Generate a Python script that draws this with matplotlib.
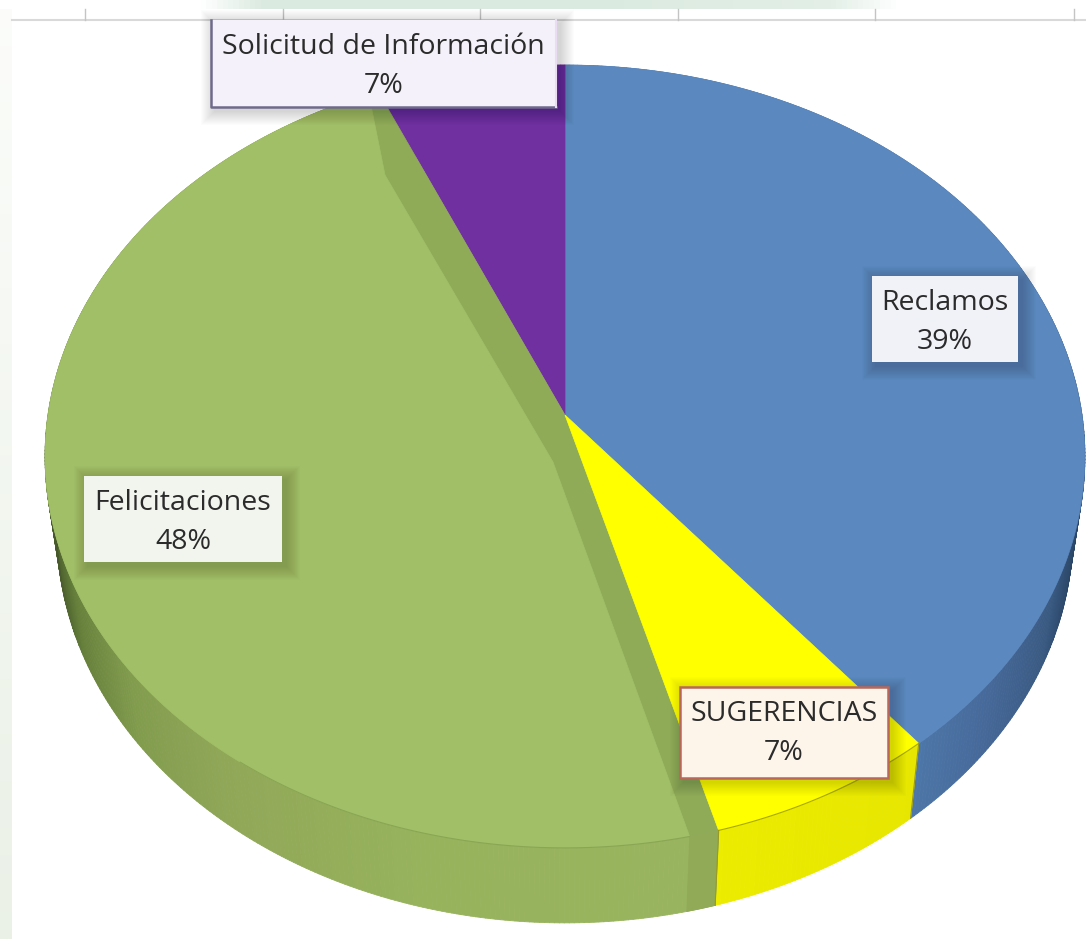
import numpy as np
import matplotlib
matplotlib.use('Agg')
import matplotlib.pyplot as plt
from matplotlib.collections import PolyCollection
from matplotlib.patches import Polygon, Rectangle

plt.rcParams['font.family'] = ['Open Sans', 'DejaVu Sans']

# Chart data (clockwise from 12 o'clock)
categories = ['Reclamos', 'SUGERENCIAS', 'Felicitaciones', 'Solicitud de Información']
shares = [39.2, 6.5, 47.8, 6.5]
pct_labels = ['39%', '7%', '48%', '7%']

top_colors = ['#5b88bf', '#ffff00', '#a0bf67', '#7030a0']
wall_color = '#8fab58'

# pie placement in pixels, with a bit of perspective
CX, CY = 565, 415
AX, BY = 517, 387
PERSP = 0.106
DEPTH = 75
BOTTOM_SCALE = 0.977


def project(t):
    # t in degrees clockwise from the top of the pie
    r = np.radians(t)
    u, v = np.sin(r), np.cos(r)
    d = 1 + PERSP * v
    return CX + AX * u / d, CY - BY * v / d


def rim(t0, t1):
    ts = np.linspace(t0, t1, max(int(abs(t1 - t0) * 2), 4))
    x, y = project(ts)
    return np.column_stack([x, y])


def lower(pts):
    out = np.array(pts, dtype=float)
    out[:, 0] = CX + (out[:, 0] - CX) * BOTTOM_SCALE
    out[:, 1] = out[:, 1] + DEPTH
    return out


def side_color(name, x):
    if name == 'Reclamos':
        stops = [(900, '#4e79aa'), (980, '#46699a'), (1040, '#3a5a82'), (1075, '#26405f')]
    elif name == 'SUGERENCIAS':
        stops = [(700, '#ecec00'), (920, '#e6e600')]
    elif name == 'Felicitaciones':
        stops = [(57, '#46582a'), (85, '#67813c'), (140, '#829c4e'), (230, '#90a758'),
                 (420, '#97b35c'), (700, '#99b45e')]
    else:
        stops = [(0, '#7030a0'), (1086, '#7030a0')]
    xs = [s[0] for s in stops]
    rgb = np.array([matplotlib.colors.to_rgb(s[1]) for s in stops])
    return [np.interp(x, xs, rgb[:, i]) for i in range(3)]


fig = plt.figure(figsize=(10.86, 9.39), dpi=100)
ax = fig.add_axes([0, 0, 1, 1])
ax.set_xlim(0, 1086)
ax.set_ylim(939, 0)
ax.axis('off')

# slide background left over in the screenshot
band = np.ones((1, 200, 3))
fade = np.interp(np.linspace(0, 1086, 200), [0, 200, 260, 600, 830, 900, 1086], [0, 0, 1, 1, 0.8, 0, 0])
band[0] = np.column_stack([1 - 0.14 * fade, 1 - 0.08 * fade, 1 - 0.12 * fade])
ax.imshow(band, extent=[0, 1086, 9, 0], aspect='auto', zorder=1)
strip = np.ones((100, 1, 3))
strip[:, 0, 0] = np.linspace(0.985, 0.92, 100)
strip[:, 0, 1] = np.linspace(0.99, 0.945, 100)
strip[:, 0, 2] = np.linspace(0.98, 0.905, 100)
ax.imshow(strip, extent=[0, 12, 939, 9], aspect='auto', zorder=1)
ax.set_xlim(0, 1086)
ax.set_ylim(939, 0)

# axis line and tick marks from the chart behind
ax.plot([12, 1086], [20, 20], color='#d9d9d9', lw=1.5, zorder=2)
for tx in [85, 283, 480, 678, 875, 1074]:
    ax.plot([tx, tx], [9, 20], color='#c4c4c4', lw=1, zorder=2)

# slice limits from the values
edges = np.concatenate([[0], np.cumsum(shares)]) * 360 / sum(shares)

# outer side of the pie, drawn as small quads so it can be shaded
quads = []
quad_colors = []
for i, name in enumerate(categories):
    pts = rim(edges[i], edges[i + 1])
    low = lower(pts)
    for j in range(len(pts) - 1):
        quads.append([pts[j], pts[j + 1], low[j + 1], low[j]])
        quad_colors.append(side_color(name, (low[j, 0] + low[j + 1, 0]) / 2))
ax.add_collection(PolyCollection(quads, facecolors=quad_colors, edgecolors=quad_colors, linewidths=0.6, zorder=3))

apex = [CX, CY]
faces = {}
for i, name in enumerate(categories):
    pts = rim(edges[i], edges[i + 1])
    faces[name] = np.vstack([[apex], pts])

ax.add_patch(Polygon(faces['Reclamos'], closed=True, fc=top_colors[0], ec=top_colors[0], lw=0.5, zorder=4))
ax.add_patch(Polygon(faces['Solicitud de Información'], closed=True, fc=top_colors[3], ec=top_colors[3], lw=0.5, zorder=4))
ax.add_patch(Polygon(faces['Felicitaciones'], closed=True, fc=wall_color, ec=wall_color, lw=0.5, zorder=5))
ax.add_patch(Polygon(faces['SUGERENCIAS'], closed=True, fc=top_colors[1], ec=top_colors[1], lw=0.5, zorder=5))

# green slice has a cut wall showing, the face sits inside it
t_a, t_b = edges[2], edges[3]
green_rim = rim(t_a + 3.0, t_b - 1.2)
kink = [[385, 175]]
green_face = np.vstack([[[553, 462]], green_rim, kink])
ax.add_patch(Polygon(green_face, closed=True, fc=top_colors[2], ec=top_colors[2], lw=0.5, zorder=6))

# front of the wall, down to the base
front = rim(t_a, t_a + 3.0)
wall_front = np.vstack([front, lower(front)[::-1]])
ax.add_patch(Polygon(wall_front, closed=True, fc='#90aa58', ec='#90aa58', lw=0.5, zorder=6))

# thin rim lines on the front slices
yr = rim(edges[1], edges[2])
ax.plot(yr[:, 0], yr[:, 1], color='#a8a800', lw=0.8, zorder=7)
gr = rim(t_a + 3.0, 215)
ax.plot(gr[:, 0], gr[:, 1], color='#8aa655', lw=0.8, zorder=7)
ax.plot([yr[0, 0], lower(yr)[0, 0]], [yr[0, 1], lower(yr)[0, 1]], color='#9a9a20', lw=0.8, zorder=7)
ax.plot([yr[-1, 0], lower(yr)[-1, 0]], [yr[-1, 1], lower(yr)[-1, 1]], color='#9a9a20', lw=0.8, zorder=7)

# labels: box (x0, y0, x1, y1), fill, edge
boxes = {
    'Reclamos': ((872, 276, 1018, 362), '#f1f1f8', None),
    'SUGERENCIAS': ((680, 687, 888, 778), '#fdf4ea', '#b9675a'),
    'Felicitaciones': ((84, 476, 282, 562), '#f1f5ee', None),
    'Solicitud de Información': ((211, 20, 556, 107), '#f5f1fa', '#6f6a8c'),
}
for name, pct in zip(categories, pct_labels):
    (x0, y0, x1, y1), fill, edge = boxes[name]
    # soft shadow, many faint layers
    for grow in range(14, 0, -1):
        ax.add_patch(Rectangle((x0 + 4 - grow, y0 + 4 - grow), x1 - x0 + 2 * grow, y1 - y0 + 2 * grow,
                               fc='black', ec='none', alpha=0.012, zorder=8))
    ax.add_patch(Rectangle((x0, y0), x1 - x0, y1 - y0, fc=fill, ec='none', zorder=9))
    if name == 'SUGERENCIAS':
        ax.add_patch(Rectangle((x0, y0), x1 - x0, y1 - y0, fc='none', ec=edge, lw=1.8, zorder=10))
    elif edge:
        ax.plot([x0, x0, x1], [y0, y1, y1], color=edge, lw=1.8, zorder=10)
        ax.plot([x1, x1], [y0, y1], color='#eadcf2', lw=1.5, zorder=10)
    xc = (x0 + x1) / 2
    ax.text(xc, y0 + 27, name, ha='center', va='center', fontsize=20.5, color='#2b2b2b', zorder=11)
    ax.text(xc, y0 + 66, pct, ha='center', va='center', fontsize=20.5, color='#2b2b2b', zorder=11)

fig.savefig('out.png', dpi=100, facecolor='white')
